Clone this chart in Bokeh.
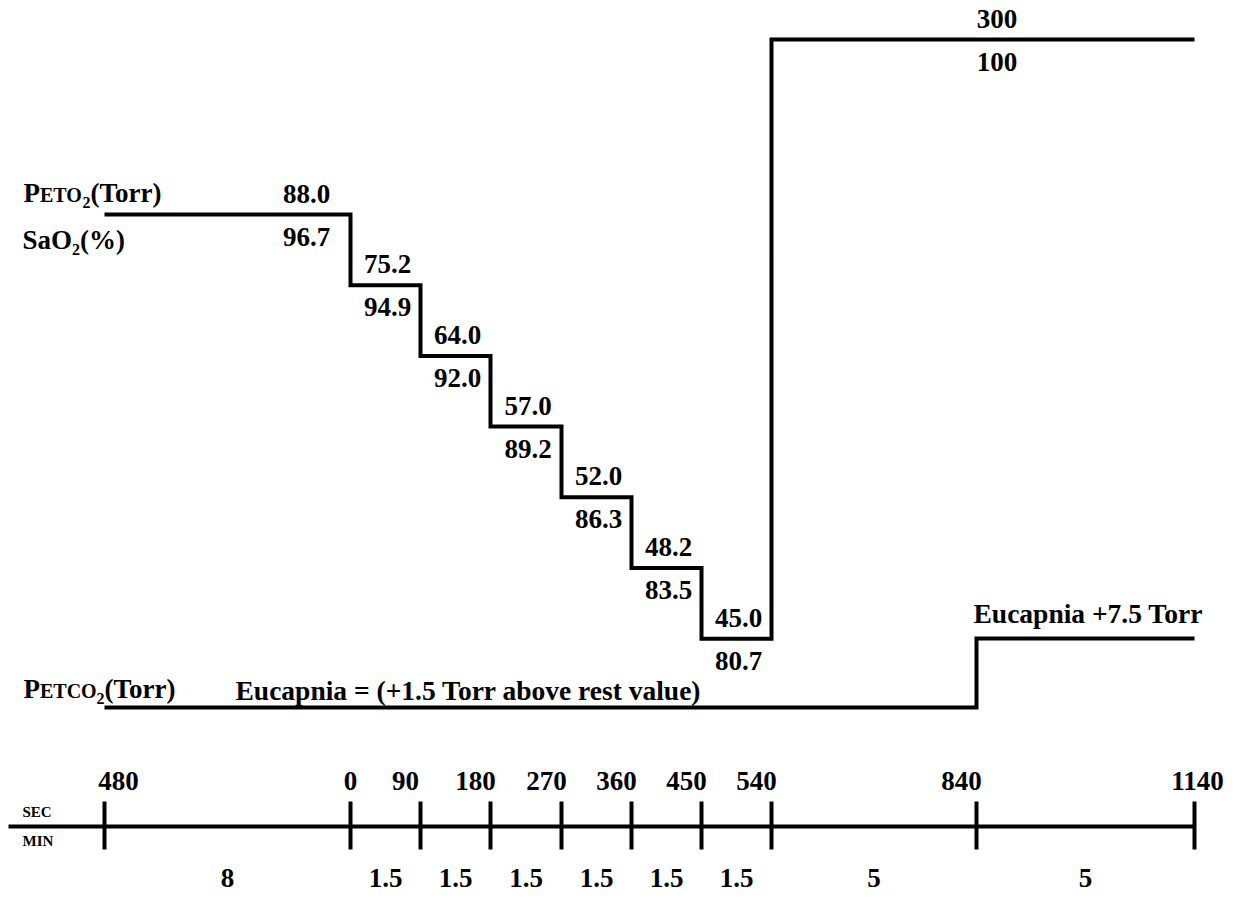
from bokeh.plotting import figure
from bokeh.models import Range1d
from bokeh.embed import file_html
from bokeh.resources import INLINE
from bokeh.core.properties import value

# ---- protocol data -------------------------------------------------------
sec_marks = [480, 0, 90, 180, 270, 360, 450, 540, 840, 1140]      # time marks (s)
min_durations = [8, 1.5, 1.5, 1.5, 1.5, 1.5, 1.5, 5, 5]           # stage lengths (min)
peto2 = [88.0, 75.2, 64.0, 57.0, 52.0, 48.2, 45.0, 300]           # end-tidal O2 (Torr)
sao2 = [96.7, 94.9, 92.0, 89.2, 86.3, 83.5, 80.7, 100]            # O2 saturation (%)
petco2_text = ["Eucapnia = (+1.5 Torr above rest value)", "Eucapnia +7.5 Torr"]

# ---- schematic layout (canvas pixels, y grows downward) ----------------
W, H = 1249, 898
mark_x = [104, 350, 420, 490, 561, 631, 701, 771, 976, 1194]     # drawn position of each time mark
row_top, row_step = 214, 70.7                                     # hypoxic plateaus, one row per stage
hyperoxia_y = 39
eucapnia_y, hypercapnia_y = 707, 638
axis_y = 826

FONT = value("Liberation Serif")
BIG = "27px"


def fmt(v):
    return f"{v:.1f}" if v < 100 else f"{v:.0f}"


# plateau heights of the O2 staircase
plateau_y = [row_top + i * row_step for i in range(len(peto2) - 1)] + [hyperoxia_y]
# plateau spans: one per hypoxic stage, the last plateau runs to the end
plateau_x0 = [mark_x[0]] + mark_x[1:len(peto2)]
plateau_x1 = mark_x[1:len(peto2)] + [mark_x[-1]]

p = figure(width=W, height=H, x_range=Range1d(0, W), y_range=Range1d(H, 0),
           output_backend="svg", toolbar_location=None, min_border=0,
           background_fill_color="white", border_fill_color="white")
p.axis.visible = False
p.grid.visible = False
p.outline_line_color = None

# O2 staircase
sx = [plateau_x0[0]] + plateau_x1
sy = plateau_y + [plateau_y[-1]]
p.step(sx, sy, mode="after", line_width=4, line_color="black", line_join="miter")

# CO2 trace
cx = [mark_x[0], mark_x[-2], mark_x[-1]]
cy = [eucapnia_y, hypercapnia_y, hypercapnia_y]
p.step(cx, cy, mode="after", line_width=4, line_color="black", line_join="miter")


def label(xs, ys, texts, size=BIG, align="center"):
    p.text(xs, ys, text=texts, text_font=FONT, text_font_style="bold",
           text_font_size=size, text_align=align, text_baseline="alphabetic",
           text_color="black")


# plateau value labels: PETO2 above each plateau, SaO2 below it
lab_x = [(a + b) / 2 + 2 for a, b in zip(plateau_x0, plateau_x1)]
lab_x[0] = plateau_x1[0] - 44
lab_x[-1] = (plateau_x0[-1] + plateau_x1[-1]) / 2 + 14
label(lab_x, [y - 21 for y in plateau_y], [fmt(v) for v in peto2])
label(lab_x, [y + 22 for y in plateau_y], [fmt(v) for v in sao2])

# CO2 annotations
label([235, 973], [eucapnia_y - 17, hypercapnia_y - 25], petco2_text, size="27.5px", align="left")


def rich(pieces, base_y):
    """pieces: (x, text, size, vertical shift)"""
    for x, t, size, dy in pieces:
        label([x], [base_y + dy], [t], size=size, align="left")


rich([(23, "P", BIG, 0), (39.5, "ETO", "20px", 2.5), (82, "2", "16px", 10), (90, "(Torr)", BIG, 0)], 192)
rich([(22, "SaO", BIG, 0), (71.5, "2", "16px", 10), (79.5, "(%)", BIG, 0)], 239)
rich([(23, "P", BIG, 0), (39.5, "ETCO", "20px", 2.5), (96, "2", "16px", 10), (104, "(Torr)", BIG, 0)], 688)

# time axis
p.line([8, mark_x[-1]], [axis_y, axis_y], line_width=4, line_color="black")
p.segment(x0=mark_x, y0=[axis_y - 25] * len(mark_x), x1=mark_x, y1=[axis_y + 23] * len(mark_x),
          line_width=4, line_color="black")

sec_shift = [14, 0, -15, -15, -15, -15, -15, -15, -15, 3]
label([x + s for x, s in zip(mark_x, sec_shift)], [780] * len(mark_x), [str(s) for s in sec_marks])

min_x = [(a + b) / 2 for a, b in zip(mark_x[:-1], mark_x[1:])]
label(min_x, [877] * len(min_x), [f"{m:g}" for m in min_durations])

label([22, 22], [811, 840], ["SEC", "MIN"], size="15px", align="left")

open("out.html", "w").write(file_html(p, INLINE))
